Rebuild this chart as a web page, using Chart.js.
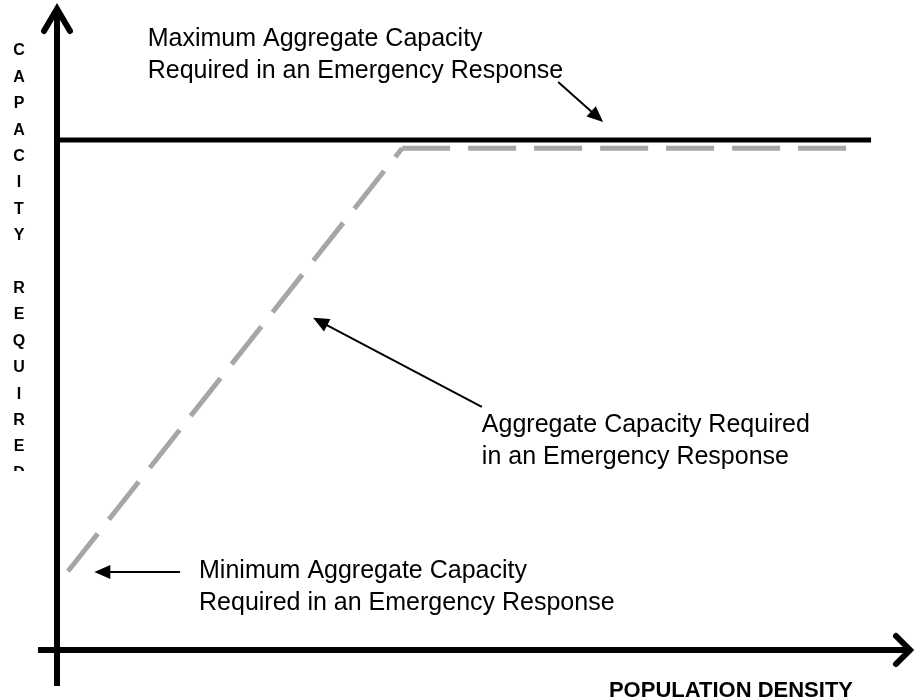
<!DOCTYPE html>
<html>
<head>
<meta charset="utf-8">
<title>Capacity required vs population density</title>
<script src="https://cdn.jsdelivr.net/npm/chart.js@4.4.1/dist/chart.umd.min.js"></script>
<style>
  html, body { margin: 0; padding: 0; background: #fff; }
  #chart { display: block; }
</style>
</head>
<body>
<canvas id="chart" width="915" height="700"></canvas>
<script>
// x = population density, y = capacity required (arbitrary 0-100 units)
const aggregateDensity = [1.3, 40.7, 93.5];
const aggregateCapacity = [12.3, 78.4, 78.4];
const maximumDensity = [0, 96];
const maximumCapacity = [79.7, 79.7];

const xAxisTitle = 'POPULATION DENSITY';
const yAxisLetters = ['C', 'A', 'P', 'A', 'C', 'I', 'T', 'Y', '', 'R', 'E', 'Q', 'U', 'I', 'R', 'E', 'D'];

// callouts: text anchor and arrow (tail -> tip), in data units
const maxLabel = ['Maximum Aggregate Capacity', 'Required in an Emergency Response'];
const aggLabel = ['Aggregate Capacity Required', 'in an Emergency Response'];
const minLabel = ['Minimum Aggregate Capacity', 'Required in an Emergency Response'];

const notes = [
  { lines: maxLabel, at: [10.7, 94.4], arrow: [[59.1, 88.75], [64.4, 82.5]] },
  { lines: aggLabel, at: [50.1, 34.1], arrow: [[50.1, 38.0], [30.2, 51.9]] },
  { lines: minLabel, at: [16.75, 11.25], arrow: [[14.5, 12.2], [4.4, 12.2]] },
];

const toPoints = (xs, ys) => xs.map((v, i) => ({ x: v, y: ys[i] }));
const aggPoints = toPoints(aggregateDensity, aggregateCapacity);

const FONT = '"Liberation Sans", Arial, sans-serif';

function drawArrow(ctx, x1, y1, x2, y2) {
  const ang = Math.atan2(y2 - y1, x2 - x1);
  const len = 16, half = 7;
  ctx.beginPath();
  ctx.moveTo(x1, y1);
  ctx.lineTo(x2 - Math.cos(ang) * len * 0.8, y2 - Math.sin(ang) * len * 0.8);
  ctx.stroke();
  ctx.beginPath();
  ctx.moveTo(x2, y2);
  ctx.lineTo(x2 - Math.cos(ang) * len - Math.sin(ang) * half, y2 - Math.sin(ang) * len + Math.cos(ang) * half);
  ctx.lineTo(x2 - Math.cos(ang) * len + Math.sin(ang) * half, y2 - Math.sin(ang) * len - Math.cos(ang) * half);
  ctx.closePath();
  ctx.fill();
}

const overlay = {
  id: 'overlay',
  beforeDatasetsDraw(chart) {
    const { ctx, scales: { x, y } } = chart;
    const ox = x.getPixelForValue(0);
    const oy = y.getPixelForValue(0);
    const right = chart.width - 3;
    ctx.save();
    ctx.strokeStyle = '#000';
    ctx.lineWidth = 6;
    ctx.beginPath();
    ctx.moveTo(ox, oy + 36);
    ctx.lineTo(ox, 9);
    ctx.moveTo(ox - 19, oy);
    ctx.lineTo(right - 3, oy);
    ctx.stroke();
    ctx.lineCap = 'round';
    ctx.lineJoin = 'miter';
    ctx.beginPath();
    ctx.moveTo(ox - 13, 31);
    ctx.lineTo(ox, 9);
    ctx.lineTo(ox + 13, 31);
    ctx.moveTo(right - 16, oy - 14);
    ctx.lineTo(right - 2, oy);
    ctx.lineTo(right - 16, oy + 14);
    ctx.stroke();
    ctx.restore();
  },
  afterDatasetsDraw(chart) {
    const { ctx, scales: { x, y } } = chart;
    const px = (v) => x.getPixelForValue(v);
    const py = (v) => y.getPixelForValue(v);
    ctx.save();
    ctx.fillStyle = '#000';
    ctx.strokeStyle = '#000';
    ctx.lineWidth = 2;

    ctx.font = '25px ' + FONT;
    ctx.textAlign = 'left';
    ctx.textBaseline = 'alphabetic';
    notes.forEach((n) => {
      n.lines.forEach((line, i) => ctx.fillText(line, px(n.at[0]), py(n.at[1]) + i * 32));
      const [t, h] = n.arrow;
      drawArrow(ctx, px(t[0]), py(t[1]), px(h[0]), py(h[1]));
    });

    // x axis title
    ctx.font = 'bold 22px ' + FONT;
    ctx.textAlign = 'right';
    ctx.fillText(xAxisTitle, 853, 697);

    // y axis title, stacked letters, cut off at the bottom like the original
    ctx.save();
    ctx.beginPath();
    ctx.rect(0, 0, 50, 471);
    ctx.clip();
    ctx.font = 'bold 16px ' + FONT;
    ctx.textAlign = 'center';
    ctx.textBaseline = 'middle';
    yAxisLetters.forEach((ch, i) => ctx.fillText(ch, 19, 51 + i * 26.4));
    ctx.restore();

    ctx.restore();
  },
};

const dashed = {
  borderColor: '#a6a6a6',
  borderWidth: 5,
  borderDash: [48, 18],
  pointRadius: 0,
};

new Chart(document.getElementById('chart'), {
  type: 'line',
  data: {
    datasets: [
      {
        label: 'Maximum aggregate capacity',
        data: toPoints(maximumDensity, maximumCapacity),
        borderColor: '#000',
        borderWidth: 5,
        pointRadius: 0,
      },
      // the rising part and the plateau each start their own dash pattern
      { label: 'Aggregate capacity required', data: aggPoints.slice(0, 2), ...dashed },
      { label: 'Aggregate capacity required (plateau)', data: aggPoints.slice(1), ...dashed },
    ],
  },
  options: {
    responsive: false,
    animation: false,
    layout: { padding: { left: 57, right: 10, top: 10, bottom: 50 } },
    scales: {
      x: { type: 'linear', min: 0, max: 100, display: false },
      y: { type: 'linear', min: 0, max: 100, display: false },
    },
    elements: { line: { tension: 0 } },
    plugins: { legend: { display: false }, tooltip: { enabled: false } },
  },
  plugins: [overlay],
});
</script>
</body>
</html>
